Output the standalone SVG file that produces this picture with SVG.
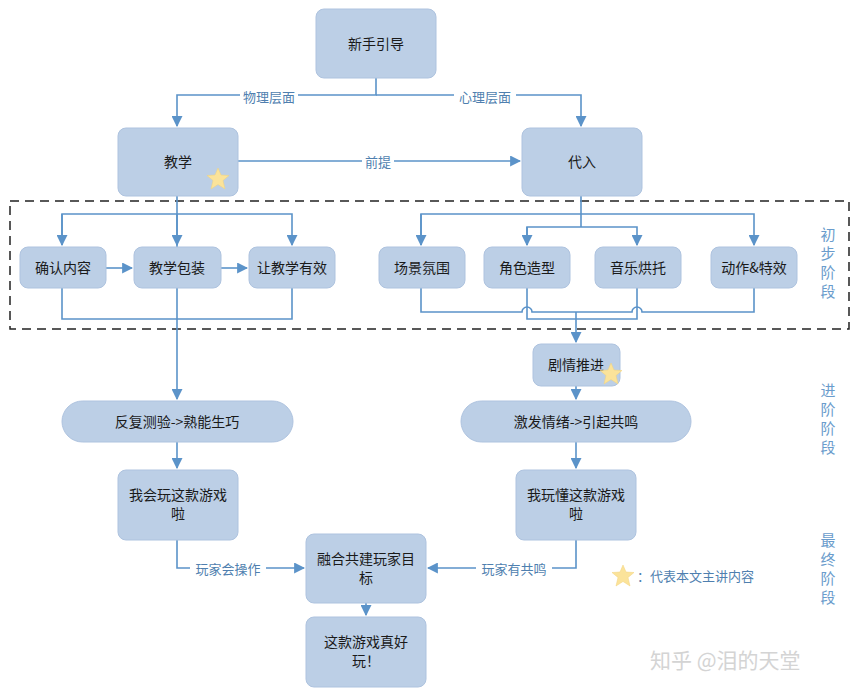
<svg xmlns="http://www.w3.org/2000/svg" width="855" height="694" viewBox="0 0 855 694">
<defs>
<style>
.n{fill:#bccfe6;stroke:#aec3df;stroke-width:1}
.t{font-family:"Noto Sans CJK SC","Liberation Sans",sans-serif;font-size:14px;fill:#1a1a1a;text-anchor:middle;dominant-baseline:central}
.c{fill:none;stroke:#5b93c9;stroke-width:1.6}
.l{font-family:"Noto Sans CJK SC",sans-serif;font-size:13px;fill:#4f7faf;text-anchor:middle;dominant-baseline:central}
.s{font-family:"Noto Sans CJK SC",sans-serif;font-size:15px;fill:#6a9ccc;text-anchor:middle}
.star{fill:#fbe39a;stroke:#f2d27a;stroke-width:0.5}
</style>
<marker id="b" viewBox="0 0 10 10" refX="9" refY="5" markerWidth="11" markerHeight="11" orient="auto" markerUnits="userSpaceOnUse"><path d="M0,0L10,5L0,10z" fill="#5b93c9"/></marker>
<path id="st" d="M0,-11L3,-4L11,-3.5L5,1.5L7,10L0,5.5L-7,10L-5,1.5L-11,-3.5L-3,-4z"/>
</defs>
<rect width="855" height="694" fill="#fff"/>
<rect x="10" y="201" width="839" height="128" fill="none" stroke="#222" stroke-width="1.5" stroke-dasharray="9,6"/>
<g id="connectors">
<path class="c" d="M376,78V95H177V126" marker-end="url(#b)"/>
<path class="c" d="M376,95H581V126" marker-end="url(#b)"/>
<rect x="240" y="88" width="58" height="16" fill="#fff"/><text class="l" x="269" y="96">物理层面</text>
<rect x="454" y="88" width="62" height="16" fill="#fff"/><text class="l" x="485" y="96">心理层面</text>
<path class="c" d="M238,161H520" marker-end="url(#b)"/>
<rect x="362" y="153" width="32" height="16" fill="#fff"/><text class="l" x="378" y="161">前提</text>
<path class="c" d="M177,196V399" marker-end="url(#b)"/>
<path class="c" d="M62,245V214H292V245" marker-end="url(#b)"/>
<path class="c" d="M62,214V245" marker-end="url(#b)"/>
<path class="c" d="M177,214V245" marker-end="url(#b)"/>
<path class="c" d="M106,268H132" marker-end="url(#b)"/>
<path class="c" d="M221,268H247" marker-end="url(#b)"/>
<path class="c" d="M62,288V319H292V288"/>
<path class="c" d="M581,196V227"/>
<path class="c" d="M421,245V214H754V245" marker-end="url(#b)"/>
<path class="c" d="M421,214V245" marker-end="url(#b)"/>
<path class="c" d="M527,245V227H637V245" marker-end="url(#b)"/>
<path class="c" d="M527,227V245" marker-end="url(#b)"/>
<path class="c" d="M421,288V312H522a5,5 0 0 1 10,0H632a5,5 0 0 1 10,0H754V288"/>
<path class="c" d="M527,288V319H637V288"/>
<path class="c" d="M576,312V342" marker-end="url(#b)"/>
<path class="c" d="M576,386V399" marker-end="url(#b)"/>
<path class="c" d="M177,442V468" marker-end="url(#b)"/>
<path class="c" d="M576,442V468" marker-end="url(#b)"/>
<path class="c" d="M177,540V568H304" marker-end="url(#b)"/>
<path class="c" d="M576,540V568H428" marker-end="url(#b)"/>
<rect x="190" y="560" width="76" height="16" fill="#fff"/><text class="l" x="228" y="568">玩家会操作</text>
<rect x="476" y="560" width="76" height="16" fill="#fff"/><text class="l" x="514" y="568">玩家有共鸣</text>
<path class="c" d="M366,603V615" marker-end="url(#b)"/>
</g>
<g id="n1"><rect class="n" x="316" y="9" width="120" height="69" rx="8"/><text class="t" x="376" y="43">新手引导</text></g>
<g id="n2"><rect class="n" x="118" y="128" width="120" height="68" rx="8"/><text class="t" x="178" y="161">教学</text><use href="#st" class="star" x="218" y="179"/></g>
<g id="n3"><rect class="n" x="522" y="128" width="120" height="68" rx="8"/><text class="t" x="582" y="161">代入</text></g>
<g id="n4"><rect class="n" x="20" y="247" width="86" height="41" rx="8"/><text class="t" x="63" y="267">确认内容</text></g>
<g id="n5"><rect class="n" x="134" y="247" width="87" height="41" rx="8"/><text class="t" x="177" y="267">教学包装</text></g>
<g id="n6"><rect class="n" x="249" y="247" width="86" height="41" rx="8"/><text class="t" x="292" y="267">让教学有效</text></g>
<g id="n7"><rect class="n" x="379" y="247" width="86" height="41" rx="8"/><text class="t" x="422" y="267">场景氛围</text></g>
<g id="n8"><rect class="n" x="484" y="247" width="86" height="41" rx="8"/><text class="t" x="527" y="267">角色造型</text></g>
<g id="n9"><rect class="n" x="595" y="247" width="86" height="41" rx="8"/><text class="t" x="638" y="267">音乐烘托</text></g>
<g id="n10"><rect class="n" x="711" y="247" width="86" height="41" rx="8"/><text class="t" x="754" y="267">动作&amp;特效</text></g>
<g id="n11"><rect class="n" x="533" y="344" width="87" height="42" rx="8"/><text class="t" x="576" y="364">剧情推进</text><use href="#st" class="star" x="611" y="374"/></g>
<g id="n12"><rect class="n" x="62" y="401" width="231" height="41" rx="20.5"/><text class="t" x="177" y="421">反复测验-&gt;熟能生巧</text></g>
<g id="n13"><rect class="n" x="461" y="401" width="230" height="41" rx="20.5"/><text class="t" x="576" y="421">激发情绪-&gt;引起共鸣</text></g>
<g id="n14"><rect class="n" x="118" y="470" width="120" height="70" rx="8"/><text class="t" x="178" y="494">我会玩这款游戏</text><text class="t" x="178" y="513">啦</text></g>
<g id="n15"><rect class="n" x="516" y="470" width="120" height="70" rx="8"/><text class="t" x="576" y="494">我玩懂这款游戏</text><text class="t" x="576" y="513">啦</text></g>
<g id="n16"><rect class="n" x="306" y="534" width="120" height="69" rx="8"/><text class="t" x="366" y="558">融合共建玩家目</text><text class="t" x="366" y="577">标</text></g>
<g id="n17"><rect class="n" x="306" y="617" width="120" height="70" rx="8"/><text class="t" x="366" y="641">这款游戏真好</text><text class="t" x="366" y="660">玩！</text></g>
<g id="legend"><use href="#st" class="star" x="623" y="576"/><text x="637" y="581" font-family="Noto Sans CJK SC,sans-serif" font-size="13" fill="#4f7faf">：代表本文主讲内容</text></g>
<g id="stages">
<text class="s" x="828" y="240">初</text><text class="s" x="828" y="259">步</text><text class="s" x="828" y="278">阶</text><text class="s" x="828" y="297">段</text>
<text class="s" x="828" y="396">进</text><text class="s" x="828" y="415">阶</text><text class="s" x="828" y="434">阶</text><text class="s" x="828" y="453">段</text>
<text class="s" x="828" y="546">最</text><text class="s" x="828" y="565">终</text><text class="s" x="828" y="584">阶</text><text class="s" x="828" y="603">段</text>
</g>
<text x="650" y="668" font-family="Noto Sans CJK SC,sans-serif" font-size="21" fill="#d4d4d4">知乎 @泪的天堂</text>
</svg>
